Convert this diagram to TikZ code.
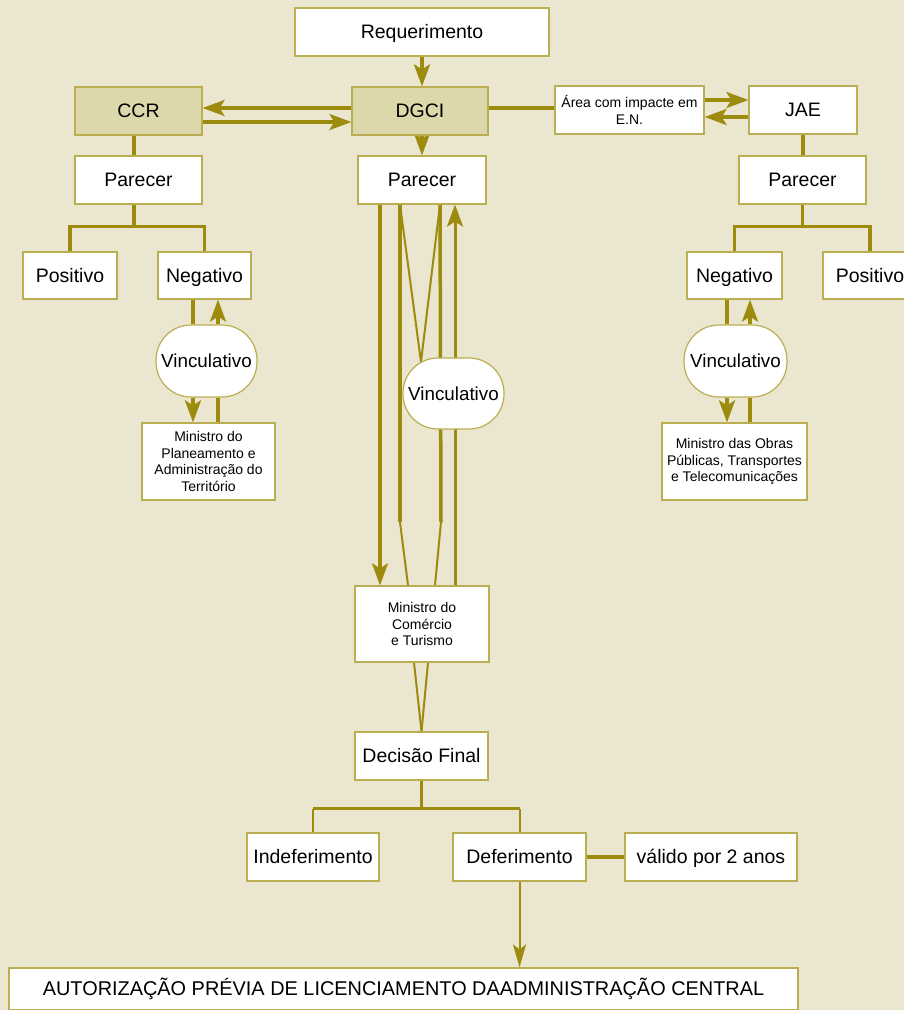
\documentclass[tikz,border=0pt]{standalone}
\usepackage{fontspec}
\setmainfont{Liberation Sans}
\usetikzlibrary{arrows.meta,calc}
\definecolor{bgc}{HTML}{EBE6CF}
\definecolor{ln}{HTML}{9C8B0C}
\definecolor{bd}{HTML}{BBAE52}
\definecolor{tanc}{HTML}{DDD8AB}
\pgfdeclarelayer{bglayer}
\pgfdeclarelayer{edges}
\pgfsetlayers{bglayer,edges,main}
\begin{document}
\begin{tikzpicture}[x=1pt,y=-1pt,
  box/.style={draw=bd,fill=white,line width=1.2pt,inner sep=0pt,text=black,align=center,font=\fontsize{19.5}{22}\selectfont},
  one/.style={text height=13.8pt,text depth=0pt},
  sm/.style={font=\fontsize{14}{16.6}\selectfont},
  vin/.style={box,one,rounded corners=35pt,font=\fontsize{18.8}{22}\selectfont},
  thk/.style={draw=ln,line width=3.5pt},
  med/.style={draw=ln,line width=3pt},
  thn/.style={draw=ln,line width=2pt},
  arr/.style={-{Stealth[length=22pt,width=16pt,inset=5pt]}},
  arrs/.style={-{Stealth[length=23pt,width=13pt,inset=5pt]}},
]
\useasboundingbox (0,0) rectangle (904,1010);
\begin{pgfonlayer}{bglayer}
\fill[bgc] (0,0) rectangle (904,1010);
\end{pgfonlayer}

% nodes
\node[box,one,minimum width=254pt,minimum height=48pt] (req) at (422,32) {Requerimento};
\node[box,one,fill=tanc,minimum width=127pt,minimum height=48pt] (ccr) at (138.5,111) {CCR};
\node[box,one,fill=tanc,minimum width=136pt,minimum height=48pt] (dgci) at (420,111) {DGCI};
\node[box,sm,minimum width=149pt,minimum height=48pt] (area) at (629.5,110) {Área com impacte em\\E.N.};
\node[box,one,minimum width=108pt,minimum height=48pt] (jae) at (803,110) {JAE};
\node[box,one,minimum width=127pt,minimum height=48pt] (parL) at (138.5,180) {Parecer};
\node[box,one,minimum width=128pt,minimum height=48pt] (parM) at (422,180) {Parecer};
\node[box,one,minimum width=127pt,minimum height=48pt] (parR) at (802.5,180) {Parecer};
\node[box,one,minimum width=94pt,minimum height=47pt] (posL) at (70,275.5) {Positivo};
\node[box,one,minimum width=93pt,minimum height=47pt] (negL) at (204.5,275.5) {Negativo};
\node[vin,minimum width=101pt,minimum height=72pt] (vinL) at (206.5,361) {Vinculativo};
\node[box,sm,minimum width=133pt,minimum height=77pt] (minL) at (208.5,461.5) {Ministro do\\Planeamento e\\Administração do\\Território};
\node[box,one,minimum width=95pt,minimum height=47pt] (negR) at (734.5,275.5) {Negativo};
\node[box,one,minimum width=94pt,minimum height=47pt] (posR) at (870,275.5) {Positivo};
\node[vin,minimum width=103pt,minimum height=72pt] (vinR) at (735.5,361) {Vinculativo};
\node[box,sm,minimum width=145pt,minimum height=77pt] (minR) at (734.5,461.5) {Ministro das Obras\\Públicas, Transportes\\e Telecomunicações};
\node[vin,minimum width=101pt,minimum height=71pt] (vinM) at (453.5,393.5) {Vinculativo};
\node[box,sm,minimum width=134pt,minimum height=76pt] (minC) at (422,624) {Ministro do\\Comércio\\e Turismo};
\node[box,one,minimum width=133pt,minimum height=48pt] (dec) at (421.5,756) {Decisão Final};
\node[box,one,minimum width=132pt,minimum height=48pt] (indef) at (313,857) {Indeferimento};
\node[box,one,minimum width=133pt,minimum height=48pt] (def) at (519.5,857) {Deferimento};
\node[box,one,minimum width=172pt,minimum height=48pt] (val) at (711,857) {válido por 2 anos};
\node[box,one,font=\fontsize{19.9}{22}\selectfont,minimum width=789pt,minimum height=42pt] (aut) at (403.5,989) {AUTORIZAÇÃO PRÉVIA DE LICENCIAMENTO DAADMINISTRAÇÃO CENTRAL};

% column coordinates
\coordinate (a1) at (193,0); \coordinate (a2) at (218,0);
\coordinate (b1) at (727,0); \coordinate (b2) at (750,0);
\coordinate (m1) at (380,0); \coordinate (m2) at (400,0);
\coordinate (m3) at (440,0); \coordinate (m4) at (455,0);
\coordinate (e1) at (408,0); \coordinate (e2) at (435,0);
\coordinate (k1) at (400,522); \coordinate (k2) at (441,522);
\coordinate (vtop) at (421,362);
\coordinate (bl) at ($(parL.south)+(-4.5,22)$);
\coordinate (br) at ($(parR.south)+(0,22)$);
\coordinate (bdd) at ($(dec.south)+(0,28)$);

\begin{pgfonlayer}{edges}
% top
\draw[thk,arr] (req.south) -- (req.south |- dgci.north);
\draw[thk,arr] ([yshift=3pt]dgci.west) -- ([yshift=3pt]dgci.west -| ccr.east);
\draw[thk,arr] ([yshift=-11pt]ccr.east) -- ([yshift=-11pt]ccr.east -| dgci.west);
\draw[thk] ([yshift=3pt]dgci.east) -- ([yshift=3pt]dgci.east -| area.west);
\draw[thk,arr] ([yshift=10pt]area.east) -- ([yshift=10pt]area.east -| jae.west);
\draw[thk,arr] ([yshift=-7pt]jae.west) -- ([yshift=-7pt]jae.west -| area.east);
\draw[thk] (jae.south) -- (jae.south |- parR.north);
\draw[thk] ([xshift=-4.5pt]ccr.south) -- ([xshift=-4.5pt]ccr.south |- parL.north);
\draw[thk,arr] (dgci.south -| req.south) -- (req.south |- parM.north);
% branches
\draw[thk] ([xshift=-4.5pt]parL.south) -- (bl);
\draw[thk] (posL.north) |- (bl) -| (negL.north);
\draw[thk] (parR.south) -- (br);
\draw[thk] (negR.north) |- (br) -| (posR.north);
% left vinculativo
\draw[thk] (negL.south -| a1) -- (vinL.north -| a1);
\draw[thk,arr] (vinL.north -| a2) -- (negL.south -| a2);
\draw[thk,arr] (vinL.south -| a1) -- (minL.north -| a1);
\draw[thk] (minL.north -| a2) -- (vinL.south -| a2);
% right vinculativo
\draw[thk] (negR.south -| b1) -- (vinR.north -| b1);
\draw[thk,arr] (vinR.north -| b2) -- (negR.south -| b2);
\draw[thk,arr] (vinR.south -| b1) -- (minR.north -| b1);
\draw[thk] (minR.north -| b2) -- (vinR.south -| b2);
% middle
\draw[thk,arr] (parM.south -| m1) -- (minC.north -| m1);
\draw[thk] (parM.south -| m2) -- (k1);
\draw[thn] (k1) -- (minC.north -| e1);
\draw[thk] (parM.south -| m3) -- (k2);
\draw[thn] (k2) -- (minC.north -| e2);
\draw[thn] (parM.south -| m2) -- (vtop);
\draw[thn] (parM.south -| m3) -- (vtop);
\draw[med,arr] (minC.north -| m4) -- (parM.south -| m4);
\draw[thn] ([xshift=-8pt]minC.south) -- (dec.north);
\draw[thn] ([xshift=6pt]minC.south) -- (dec.north);
% bottom
\draw[thk] (dec.south) -- (bdd);
\draw[thk] (indef.north |- bdd) -- (def.north |- bdd);
\draw[thn] (indef.north |- bdd) -- (indef.north);
\draw[thn] (def.north |- bdd) -- (def.north);
\draw[thk] (def) -- (val);
\draw[thn,arrs] (def.south) -- (def.south |- aut.north);
\end{pgfonlayer}
\end{tikzpicture}
\end{document}
